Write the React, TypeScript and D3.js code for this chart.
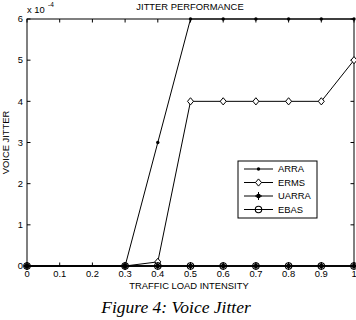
import React from 'react';
import * as d3 from 'd3';

// traffic load points where samples were taken
const loads = [0, 0.3, 0.4, 0.5, 0.6, 0.7, 0.8, 0.9, 1.0];
// jitter values in units of 1e-4
const arra = [0, 0, 3, 6, 6, 6, 6, 6, 6];
const erms = [0, 0, 0.1, 4, 4, 4, 4, 4, 5];
const uarra = [0, 0, 0, 0, 0, 0, 0, 0, 0];
const ebas = [0, 0, 0, 0, 0, 0, 0, 0, 0];
const seriesNames = ['ARRA', 'ERMS', 'UARRA', 'EBAS'];

const xTicks = [0, 0.1, 0.2, 0.3, 0.4, 0.5, 0.6, 0.7, 0.8, 0.9, 1];
const yTicks = [0, 1, 2, 3, 4, 5, 6];

const W = 356;
const H = 320;
const m = { left: 27, right: 354, top: 19, bottom: 266 };
const font = 'Liberation Sans, Arial, sans-serif';
const fs = 9.4;

const Marker = ({ kind, x, y }: { kind: string; x: number; y: number }) => {
  if (kind === 'ARRA') return <circle cx={x} cy={y} r={1.7} fill="#000" />;
  if (kind === 'ERMS')
    return (
      <path
        d={`M${x},${y - 3.6}L${x + 3},${y}L${x},${y + 3.6}L${x - 3},${y}Z`}
        fill="#fff"
        stroke="#000"
        strokeWidth={1}
      />
    );
  if (kind === 'UARRA')
    return (
      <g>
        <circle cx={x} cy={y} r={2.3} fill="#000" />
        <line x1={x} x2={x} y1={y - 4} y2={y + 4} stroke="#000" strokeWidth={1} />
        <line x1={x - 3.5} x2={x + 3.5} y1={y} y2={y} stroke="#000" strokeWidth={1} />
      </g>
    );
  return <circle cx={x} cy={y} r={3.2} fill="none" stroke="#000" strokeWidth={1.1} />;
};

const App = () => {
  const x = d3.scaleLinear().domain([0, 1]).range([m.left, m.right]);
  const y = d3.scaleLinear().domain([0, 6]).range([m.bottom, m.top]);
  const series = [arra, erms, uarra, ebas];

  const line = d3
    .line<number>()
    .x((_, i) => x(loads[i]))
    .y((d) => y(d));

  const legendX = 238;
  const legendY = 161;

  return (
    <svg
      width={W}
      height={H}
      style={{ position: 'absolute', left: 0, top: 0, background: '#fff' }}
    >
      <rect x={0} y={0} width={W} height={H} fill="#fff" />
      {/* frame */}
      <rect
        x={m.left}
        y={m.top}
        width={m.right - m.left}
        height={m.bottom - m.top}
        fill="none"
        stroke="#000"
        strokeWidth={1}
      />
      {/* ticks inward */}
      {xTicks.map((t) => (
        <g key={'x' + t}>
          <line x1={x(t)} x2={x(t)} y1={m.bottom} y2={m.bottom - 3.5} stroke="#000" />
          <line x1={x(t)} x2={x(t)} y1={m.top} y2={m.top + 3.5} stroke="#000" />
          <text
            x={x(t)}
            y={m.bottom + 10.5}
            fontSize={fs}
            fontFamily={font}
            textAnchor="middle"
          >
            {t}
          </text>
        </g>
      ))}
      {yTicks.map((t) => (
        <g key={'y' + t}>
          <line x1={m.left} x2={m.left + 3.5} y1={y(t)} y2={y(t)} stroke="#000" />
          <line x1={m.right} x2={m.right - 3.5} y1={y(t)} y2={y(t)} stroke="#000" />
          <text
            x={m.left - 4}
            y={y(t) + 3.3}
            fontSize={fs}
            fontFamily={font}
            textAnchor="end"
          >
            {t}
          </text>
        </g>
      ))}
      {/* exponent */}
      <text x={m.left} y={13} fontSize={fs} fontFamily={font}>
        x 10
      </text>
      <text x={m.left + 21} y={7} fontSize={6.5} fontFamily={font}>
        -4
      </text>
      {/* lines */}
      {series.map((s, k) => (
        <path key={k} d={line(s) || ''} fill="none" stroke="#000" strokeWidth={k > 1 ? 1.6 : 1} />
      ))}
      {series.map((s, k) =>
        s.map((v, i) => (
          <Marker key={k + '-' + i} kind={seriesNames[k]} x={x(loads[i])} y={y(v)} />
        ))
      )}
      {/* titles */}
      <text x={190} y={10} fontSize={fs} fontFamily={font} textAnchor="middle">
        JITTER PERFORMANCE
      </text>
      <text x={189} y={289} fontSize={fs} fontFamily={font} textAnchor="middle">
        TRAFFIC LOAD INTENSITY
      </text>
      <text
        transform={`translate(9,${(m.top + m.bottom) / 2}) rotate(-90)`}
        fontSize={fs}
        fontFamily={font}
        textAnchor="middle"
      >
        VOICE JITTER
      </text>
      {/* legend */}
      <rect x={legendX} y={legendY} width={79} height={57} fill="#fff" stroke="#000" strokeWidth={1} />
      {seriesNames.map((n, i) => {
        const ly = legendY + 8 + i * 13.5;
        return (
          <g key={n}>
            <line x1={legendX + 6} x2={legendX + 35} y1={ly} y2={ly} stroke="#000" />
            <Marker kind={n} x={legendX + 20.5} y={ly} />
            <text x={legendX + 40} y={ly + 3.3} fontSize={fs} fontFamily={font}>
              {n}
            </text>
          </g>
        );
      })}
      {/* caption */}
      <text
        x={176}
        y={313}
        fontSize={17.5}
        fontFamily="Liberation Serif, Times New Roman, serif"
        fontStyle="italic"
        textAnchor="middle"
      >
        Figure 4: Voice Jitter
      </text>
    </svg>
  );
};

export default App;
